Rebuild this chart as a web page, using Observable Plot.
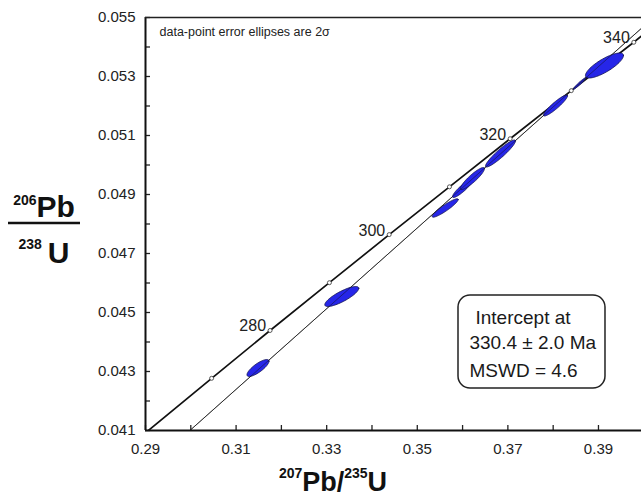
<!DOCTYPE html>
<html><head><meta charset="utf-8">
<script src="https://cdn.jsdelivr.net/npm/d3@7"></script>
<script src="https://cdn.jsdelivr.net/npm/@observablehq/plot@0.6"></script>
<style>body{margin:0;background:#fff} svg{display:block}</style>
</head><body><div id="chart"></div>
<script>
// Concordia age markers (Ma) and their ratio positions
const ages = [270, 280, 290, 300, 310, 320, 330, 340];
const ageX = [0.3046, 0.3175, 0.3306, 0.3438, 0.3571, 0.3705, 0.3840, 0.3978];
const ageY = [0.04277, 0.04439, 0.04601, 0.04764, 0.04926, 0.05089, 0.05252, 0.05416];
const labelledAges = [280, 300, 320, 340];
// Concordia curve (through markers, to the frame edges)
const concordiaX = [0.2900, 0.3046, 0.3175, 0.3306, 0.3438, 0.3571, 0.3705, 0.3840, 0.3978, 0.4010];
const concordiaY = [0.04092, 0.04277, 0.04439, 0.04601, 0.04764, 0.04926, 0.05089, 0.05252, 0.05416, 0.05456];
// Discordia regression line
const discordiaX = [0.2998, 0.4010];
const discordiaY = [0.0410, 0.05484];
// Data-point error ellipses (2 sigma): centre, half-extent in x and y, correlation
const ellX   = [0.31483, 0.33333, 0.35616, 0.35998, 0.36219, 0.36837, 0.38051, 0.38580, 0.39132];
const ellY   = [0.043119, 0.045542, 0.048542, 0.049203, 0.049542, 0.050390, 0.052017, 0.052760, 0.053373];
const ellHX  = [0.00243, 0.00375, 0.00287, 0.00220, 0.00265, 0.00331, 0.00265, 0.00143, 0.00420];
const ellHY  = [0.000288, 0.000339, 0.000312, 0.000305, 0.000373, 0.000458, 0.000356, 0.000203, 0.000424];
const ellRho = [0.80, 0.82, 0.92, 0.90, 0.90, 0.93, 0.92, 0.97, 0.80];
// Axis ticks
const xTickLabels = [0.29, 0.31, 0.33, 0.35, 0.37, 0.39];
const xTicks = [0.29, 0.30, 0.31, 0.32, 0.33, 0.34, 0.35, 0.36, 0.37, 0.38, 0.39];
const yTickLabels = [0.041, 0.043, 0.045, 0.047, 0.049, 0.051, 0.053, 0.055];
const yTicks = [0.041, 0.042, 0.043, 0.044, 0.045, 0.046, 0.047, 0.048, 0.049, 0.050, 0.051, 0.052, 0.053, 0.054, 0.055];
// Annotation texts
const noteText = "data-point error ellipses are 2\u03c3";
const boxLines = ["Intercept at", "330.4 \u00b1 2.0 Ma", "MSWD = 4.6"];

const markers = ages.map((a, i) => ({age: a, x: ageX[i], y: ageY[i]}));
const labelled = markers.filter(d => labelledAges.includes(d.age));
const concordia = concordiaX.map((x, i) => ({x, y: concordiaY[i]}));
const discordia = discordiaX.map((x, i) => ({x, y: discordiaY[i]}));
const ellipses = ellX.flatMap((cx, i) => d3.range(0, 73).map(k => {
  const t = k / 72 * 2 * Math.PI, r = ellRho[i];
  return {id: i, x: cx + ellHX[i] * Math.cos(t),
          y: ellY[i] + ellHY[i] * (r * Math.cos(t) + Math.sqrt(1 - r * r) * Math.sin(t))};
}));

const W = 641, H = 499, mT = 17, mB = 69, mL = 145, mR = 0;
const innerW = W - mL - mR, innerH = H - mT - mB;
const font = "'Liberation Sans', Arial, Helvetica, sans-serif";

const chart = Plot.plot({
  width: W, height: H, marginTop: mT, marginBottom: mB, marginLeft: mL, marginRight: mR,
  style: {fontFamily: font, fontSize: "15px", background: "#fff", color: "#222"},
  x: {domain: [0.29, 0.3995]},
  y: {domain: [0.041, 0.055]},
  marks: [
    Plot.line(concordia, {x: "x", y: "y", stroke: "#111", strokeWidth: 1.7, clip: true}),
    Plot.line(discordia, {x: "x", y: "y", stroke: "#444", strokeWidth: 1, clip: true}),
    Plot.line(ellipses, {x: "x", y: "y", z: "id", fill: "#2626e8", stroke: "#141450", strokeWidth: 0.8, curve: "linear-closed"}),
    Plot.line(discordia, {x: "x", y: "y", stroke: "#111", strokeWidth: 0.8, strokeOpacity: 0.6, clip: true}),
    Plot.dot(markers, {x: "x", y: "y", r: 2, fill: "#fff", stroke: "#444", strokeWidth: 0.9}),
    Plot.text(labelled, {x: "x", y: "y", text: d => String(d.age), textAnchor: "end", lineAnchor: "bottom", dx: -4, dy: 1, fontSize: 16, fill: "#222"}),
    Plot.tickX(xTicks, {x: d => d, insetTop: innerH - 5, stroke: "#222", strokeWidth: 1.3}),
    Plot.tickY(yTicks, {y: d => d, insetRight: innerW - 5, stroke: "#222", strokeWidth: 1.3}),
    Plot.axisX({ticks: xTickLabels, tickSize: 0, tickPadding: 13, tickFormat: d3.format(".2f"), label: null, fill: "#222"}),
    Plot.axisY({ticks: yTickLabels, tickSize: 0, tickPadding: 10, tickFormat: d3.format(".3f"), label: null, fill: "#222"}),
    Plot.ruleX([0.29], {stroke: "#111", strokeWidth: 2}),
    Plot.ruleY([0.041], {stroke: "#111", strokeWidth: 2}),
    Plot.ruleY([0.055], {stroke: "#222", strokeWidth: 1.5}),
    Plot.text([noteText], {frameAnchor: "top-left", dx: 14, dy: 10, lineAnchor: "top", textAnchor: "start", fontSize: 12.5, fill: "#222"}),
    Plot.rect([0], {x1: 0.3591, x2: 0.39155, y1: 0.042424, y2: 0.045576, rx: 12, fill: "#fff", stroke: "#222", strokeWidth: 1.5}),
    Plot.text(boxLines, {x: (d, i) => i === 0 ? 0.36285 : 0.36152, y: (d, i) => [0.044814, 0.043983, 0.043017][i], text: d => d, textAnchor: "start", lineAnchor: "middle", fontSize: 19, fill: "#1a1a1a"})
  ]
});
document.getElementById("chart").appendChild(chart);

// Axis titles with superscripts
const svg = d3.select(chart);
const titleFont = "'Liberation Sans Narrow', 'Liberation Sans', Arial, sans-serif";
const g = svg.append("g").attr("font-family", titleFont).attr("font-weight", "bold").attr("fill", "#111");
const num = g.append("text").attr("x", 44).attr("y", 217).attr("text-anchor", "middle");
num.append("tspan").attr("font-size", 14).attr("dy", -12).text("206");
num.append("tspan").attr("font-size", 30).attr("dy", 12).text("Pb");
g.append("line").attr("x1", 8).attr("x2", 80).attr("y1", 223).attr("y2", 223).attr("stroke", "#111").attr("stroke-width", 2.5);
const den = g.append("text").attr("x", 44).attr("y", 263).attr("text-anchor", "middle");
den.append("tspan").attr("font-size", 14).attr("dy", -14).text("238");
den.append("tspan").attr("font-size", 30).attr("dy", 14).attr("dx", 6).text("U");
const xt = g.append("text").attr("x", 333).attr("y", 491).attr("text-anchor", "middle");
xt.append("tspan").attr("font-size", 14).attr("dy", -13).text("207");
xt.append("tspan").attr("font-size", 27).attr("dy", 13).text("Pb/");
xt.append("tspan").attr("font-size", 14).attr("dy", -13).text("235");
xt.append("tspan").attr("font-size", 27).attr("dy", 13).text("U");
</script>
</body></html>
